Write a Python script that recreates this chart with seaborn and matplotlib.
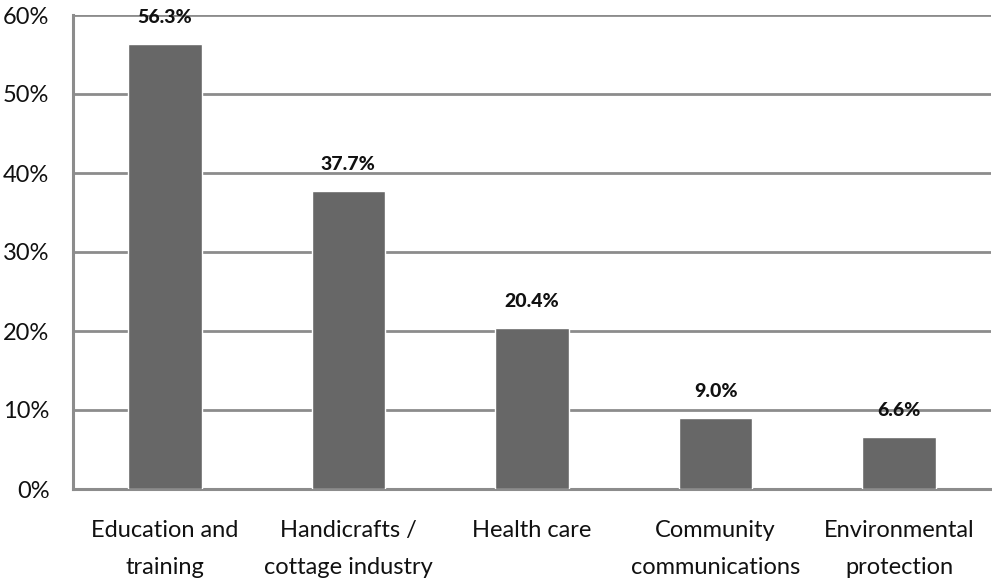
import matplotlib
matplotlib.use("Agg")
import matplotlib.pyplot as plt
import seaborn as sns
import pandas as pd
from matplotlib.ticker import FuncFormatter, FixedLocator

categories = ["Education and\ntraining", "Handicrafts /\ncottage industry", "Health care",
              "Community\ncommunications", "Environmental\nprotection"]
values = [56.3, 37.7, 20.4, 9.0, 6.6]
value_labels = ["56.3%", "37.7%", "20.4%", "9.0%", "6.6%"]

sns.set_theme(style="white")
plt.rcParams['font.family'] = ['Lato', 'DejaVu Sans']

df = pd.DataFrame({"category": categories, "value": values})

fig = plt.figure(figsize=(9.92, 5.8), dpi=100)
ax = fig.add_axes([73 / 992, 1 - 489 / 580, (991 - 73) / 992, (489 - 15) / 580])

sns.barplot(data=df, x="category", y="value", color="#676767", width=0.4,
            saturation=1, ax=ax, zorder=3)

ax.set_ylim(0, 60)
ax.set_xlim(-0.5, len(categories) - 0.5)
ax.set_yticks(range(0, 61, 10))
ax.yaxis.set_major_formatter(FuncFormatter(lambda v, p: f"{int(v)}%"))
ax.yaxis.grid(True, color="#8c8c8c", linewidth=2, zorder=0)
ax.set_axisbelow(True)

for s in ["top", "right"]:
    ax.spines[s].set_visible(False)
for s in ["left", "bottom"]:
    ax.spines[s].set_color("#8c8c8c")
    ax.spines[s].set_linewidth(2.2)

# x ticks at category boundaries
ax.xaxis.set_major_locator(FixedLocator([i - 0.5 for i in range(len(categories) + 1)]))
ax.set_xticklabels([""] * (len(categories) + 1))
ax.tick_params(axis="x", which="major", length=6, width=2, color="#8c8c8c", direction="out")
ax.tick_params(axis="y", length=7, width=2, color="#8c8c8c", direction="out",
               labelsize=17, pad=10, labelcolor="#111111")
for i, c in enumerate(categories):
    ax.text(i, -3.9, c, ha="center", va="top", fontsize=17, linespacing=1.95,
            color="#111111")

for i, (v, lab) in enumerate(zip(values, value_labels)):
    ax.annotate(lab, (i, v), xytext=(0, 19), textcoords="offset points",
                ha="center", va="center", fontsize=14, fontweight="black",
                color="#111111", zorder=5)

ax.set_xlabel("")
ax.set_ylabel("")

fig.savefig("out.png", dpi=100)
